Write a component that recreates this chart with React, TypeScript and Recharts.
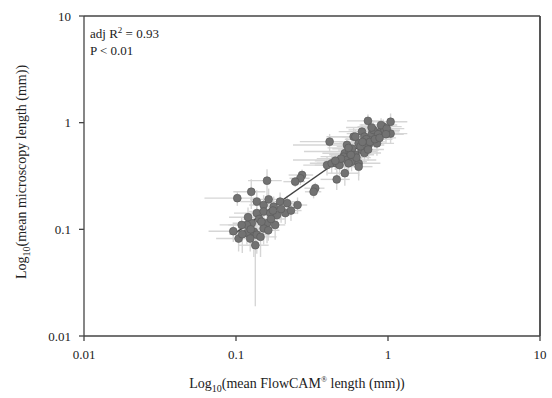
import React from 'react';
import { ScatterChart, Scatter, XAxis, YAxis, ErrorBar, ReferenceLine, Label } from 'recharts';

// mean FlowCAM length (mm)
const flowcamLength = [
  0.160, 0.126, 0.102, 0.137, 0.152, 0.164, 0.177, 0.195, 0.217, 0.137,
  0.152, 0.168, 0.186, 0.211, 0.127, 0.118, 0.109, 0.160, 0.181, 0.152,
  0.131, 0.118, 0.137, 0.145, 0.124, 0.104, 0.096, 0.134, 0.254, 0.142,
  0.170, 0.198, 0.120, 0.110, 0.147, 0.175, 0.125, 0.163,
  0.272, 0.265, 0.245, 0.332, 0.324, 0.230,
  0.413, 0.594, 0.674, 0.785, 0.889, 1.040, 0.537, 0.641, 0.745, 0.846,
  0.520, 0.560, 0.610, 0.670, 0.510, 0.537, 0.576, 0.641, 0.550, 0.397,
  0.426, 0.460, 0.480, 0.520, 0.460, 0.641, 0.610, 0.700, 0.800, 1.040,
  0.930, 0.950, 0.900, 0.980, 0.860, 0.720, 0.760, 0.660, 0.580, 0.620,
  0.700, 0.740, 0.820, 0.738, 0.490, 0.450, 0.570, 0.880, 0.970, 0.680,
  0.550, 0.780,
];

// mean microscopy length (mm)
const microscopyLength = [
  0.286, 0.225, 0.196, 0.182, 0.169, 0.191, 0.163, 0.182, 0.176, 0.142,
  0.147, 0.142, 0.136, 0.142, 0.114, 0.110, 0.110, 0.114, 0.110, 0.102,
  0.095, 0.092, 0.089, 0.085, 0.082, 0.082, 0.096, 0.071, 0.169, 0.125,
  0.125, 0.155, 0.130, 0.090, 0.118, 0.150, 0.100, 0.098,
  0.323, 0.301, 0.280, 0.243, 0.225, 0.150,
  0.664, 0.739, 0.824, 0.790, 0.820, 0.790, 0.618, 0.640, 0.618, 0.640,
  0.517, 0.536, 0.500, 0.555, 0.480, 0.447, 0.430, 0.416, 0.416, 0.400,
  0.416, 0.416, 0.400, 0.336, 0.294, 0.387, 0.739, 0.739, 0.855, 1.020,
  0.918, 0.850, 0.950, 0.880, 0.780, 0.700, 0.660, 0.600, 0.570, 0.470,
  0.520, 0.560, 0.700, 1.040, 0.460, 0.440, 0.500, 0.720, 0.780, 0.660,
  0.580, 0.900,
];

// standard deviation of FlowCAM length (mm)
const flowcamSd = [
  0.040, 0.030, 0.040, 0.030, 0.030, 0.040, 0.030, 0.050, 0.050, 0.040,
  0.030, 0.030, 0.040, 0.040, 0.030, 0.040, 0.020, 0.030, 0.030, 0.030,
  0.030, 0.020, 0.030, 0.040, 0.030, 0.030, 0.030, 0.030, 0.040, 0.030,
  0.040, 0.040, 0.030, 0.020, 0.030, 0.030, 0.020, 0.030,
  0.050, 0.040, 0.040, 0.050, 0.040, 0.040,
  0.150, 0.200, 0.200, 0.250, 0.300, 0.300, 0.300, 0.200, 0.200, 0.250,
  0.150, 0.280, 0.200, 0.200, 0.150, 0.300, 0.150, 0.250, 0.120, 0.120,
  0.120, 0.120, 0.150, 0.120, 0.100, 0.150, 0.200, 0.200, 0.250, 0.300,
  0.300, 0.250, 0.250, 0.300, 0.250, 0.200, 0.200, 0.200, 0.150, 0.150,
  0.200, 0.200, 0.250, 0.200, 0.150, 0.120, 0.150, 0.250, 0.300, 0.200,
  0.150, 0.250,
];

// standard deviation of microscopy length (mm)
const microscopySd = [
  0.080, 0.070, 0.030, 0.050, 0.040, 0.050, 0.040, 0.040, 0.030, 0.040,
  0.030, 0.050, 0.030, 0.030, 0.030, 0.030, 0.020, 0.040, 0.030, 0.030,
  0.040, 0.020, 0.030, 0.030, 0.020, 0.020, 0.020, 0.052, 0.030, 0.030,
  0.030, 0.040, 0.030, 0.030, 0.020, 0.030, 0.020, 0.020,
  0.040, 0.040, 0.030, 0.030, 0.030, 0.030,
  0.120, 0.150, 0.150, 0.150, 0.200, 0.150, 0.100, 0.120, 0.150, 0.150,
  0.100, 0.100, 0.100, 0.100, 0.080, 0.100, 0.080, 0.100, 0.080, 0.080,
  0.080, 0.100, 0.080, 0.080, 0.060, 0.100, 0.120, 0.150, 0.150, 0.200,
  0.150, 0.150, 0.150, 0.150, 0.120, 0.120, 0.120, 0.120, 0.100, 0.100,
  0.100, 0.120, 0.120, 0.150, 0.080, 0.080, 0.100, 0.120, 0.150, 0.120,
  0.100, 0.150,
];

// regression line end points
const fitX = [0.1, 1.05];
const fitY = [0.093, 0.977];

const axisTicks = [0.01, 0.1, 1, 10];

const points = flowcamLength.map((x, i) => ({
  x,
  y: microscopyLength[i],
  ex: flowcamSd[i],
  ey: microscopySd[i],
}));

const fitLine = fitX.map((x, i) => ({ x, y: fitY[i] }));

const FONT = 'Liberation Serif, Times New Roman, serif';

const Dot = (props: any) => (
  <circle cx={props.cx} cy={props.cy} r={3.9} fill="#727272" stroke="#5c5c5c" strokeWidth={0.7} />
);
const NoShape = () => <g />;

const XTitle = (props: any) => {
  const vb = props.viewBox;
  const cx = vb.x + vb.width / 2 - 15;
  return (
    <text x={cx} y={388} textAnchor="middle" fontFamily={FONT} fontSize={14} fill="#222">
      <tspan>Log</tspan>
      <tspan dy={4} fontSize={10}>10</tspan>
      <tspan dy={-4}>(mean FlowCAM</tspan>
      <tspan dy={-6} fontSize={8}>®</tspan>
      <tspan dy={6}>{'  length (mm))'}</tspan>
    </text>
  );
};

const YTitle = () => {
  const cx = 26;
  const cy = 172;
  return (
    <text
      x={cx}
      y={cy}
      transform={`rotate(-90 ${cx} ${cy})`}
      textAnchor="middle"
      fontFamily={FONT}
      fontSize={14}
      fill="#222"
    >
      <tspan>Log</tspan>
      <tspan dy={4} fontSize={10}>10</tspan>
      <tspan dy={-4}>(mean microscopy length (mm))</tspan>
    </text>
  );
};

export default function App() {
  return (
    <div style={{ position: 'absolute', left: 0, top: 0, background: '#fff' }}>
      <ScatterChart width={552} height={398} margin={{ top: 16, right: 12, bottom: 0, left: 0 }}>
        <XAxis
          type="number"
          dataKey="x"
          scale="log"
          domain={[0.01, 10]}
          ticks={axisTicks}
          allowDataOverflow
          height={62}
          tickSize={5}
          tickMargin={9}
          stroke="#444"
          strokeWidth={1.3}
          tick={{ fill: '#222', fontSize: 13, fontFamily: FONT }}
          tickFormatter={(v: number) => String(v)}
        >
          <Label content={XTitle} />
        </XAxis>
        <YAxis
          type="number"
          dataKey="y"
          scale="log"
          domain={[0.01, 10]}
          ticks={axisTicks}
          allowDataOverflow
          width={84}
          tickSize={5}
          tickMargin={8}
          stroke="#444"
          strokeWidth={1.3}
          tick={{ fill: '#222', fontSize: 13, fontFamily: FONT }}
          tickFormatter={(v: number) => String(v)}
        >
          <Label content={YTitle} />
        </YAxis>
        <ReferenceLine y={10} stroke="#444" strokeWidth={1.3} />
        <ReferenceLine x={10} stroke="#444" strokeWidth={1.8} />
        <Scatter data={points} shape={NoShape} isAnimationActive={false}>
          <ErrorBar dataKey="ex" direction="x" width={0} stroke="#d6d6d6" strokeWidth={1.4} />
          <ErrorBar dataKey="ey" direction="y" width={0} stroke="#d6d6d6" strokeWidth={1.4} />
        </Scatter>
        <Scatter
          data={fitLine}
          line={{ stroke: '#444', strokeWidth: 1.5 }}
          shape={NoShape}
          isAnimationActive={false}
        />
        <Scatter data={points} shape={Dot} isAnimationActive={false} />
        <text x={90} y={38} fontFamily={FONT} fontSize={13} fill="#222">
          <tspan>adj R</tspan>
          <tspan dy={-5} fontSize={9}>2</tspan>
          <tspan dy={5}> = 0.93</tspan>
        </text>
        <text x={90} y={55} fontFamily={FONT} fontSize={13} fill="#222">
          P &lt; 0.01
        </text>
      </ScatterChart>
    </div>
  );
}
